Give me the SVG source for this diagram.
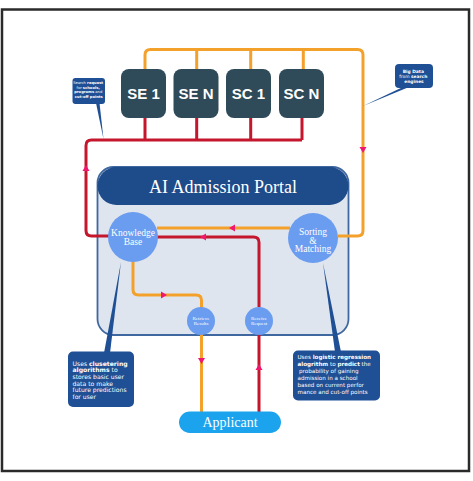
<svg xmlns="http://www.w3.org/2000/svg" width="473" height="481" viewBox="0 0 473 481">
<style>
.or{fill:none;stroke:#f4a12c;stroke-width:3}
.rd{fill:none;stroke:#c4162c;stroke-width:3}
.se{fill:#2f4a58}
.set{font-family:"Liberation Sans",Arial,sans-serif;font-weight:bold;font-size:15px;fill:#fff;text-anchor:middle}
.cir{fill:#6a9cf0}
.ct{font-family:"Liberation Serif","Times New Roman",serif;fill:#fff;text-anchor:middle}
.co{fill:#1f4f94}
.cot{font-family:"DejaVu Sans",Verdana,sans-serif;fill:#fff}
.cot tspan.b{font-weight:bold}
.ptr{fill:#1f4f94}
</style>
<defs>
<path id="arr" d="M-3.5,-3 L3.5,-3 L0,3 Z" fill="#f0186e"/>
</defs>
<rect x="0" y="0" width="473" height="481" fill="#fff"/>
<rect x="2" y="9.5" width="467" height="461.5" fill="#fff" stroke="#2a2a2a" stroke-width="2.5"/>

<g id="portal">
<rect x="97.5" y="167" width="251" height="168" rx="16" fill="#dfe5ee" stroke="#3f67a0" stroke-width="1.8"/>
<rect x="97.5" y="167" width="251" height="38" rx="19" fill="#1e4b89"/>
<text x="223" y="192.5" class="ct" font-size="18">AI Admission Portal</text>
</g>

<g id="connectors">
<path class="or" d="M145,69 V55 Q145,49.5 150.5,49.5 H357.5 Q363,49.5 363,55 V230.5 Q363,236 357.5,236 H338"/>
<path class="or" d="M196.7,49.5 V69 M250.7,49.5 V69 M303.3,49.5 V69"/>
<path class="rd" d="M145,118 V140 M196.7,118 V140 M250.7,118 V140 M302,118 V140"/>
<path class="rd" d="M302,140 H91.5 Q86,140 86,145.5 V230.5 Q86,236 91.5,236 H110"/>
<path class="rd" d="M259,307 V242.5 Q259,237 253.5,237 H157"/>
<path class="or" d="M290,228 H157"/>
<path class="or" d="M133,260 V289.5 Q133,295 138.5,295 H196 Q201.5,295 201.5,300.5 V308"/>
<path class="or" d="M201.5,334 V412"/>
<path class="rd" d="M259,412 V334"/>
<use href="#arr" transform="translate(363,150)"/>
<use href="#arr" transform="translate(86,168) rotate(180)"/>
<use href="#arr" transform="translate(232,228) rotate(90)"/>
<use href="#arr" transform="translate(203,237) rotate(90)"/>
<use href="#arr" transform="translate(164,295) rotate(-90)"/>
<use href="#arr" transform="translate(201.5,361)"/>
<use href="#arr" transform="translate(259,367) rotate(180)"/>
</g>

<g id="se1"><rect class="se" x="121" y="69" width="45" height="49" rx="8"/><text class="set" x="143.5" y="98.5">SE 1</text></g>
<g id="sen"><rect class="se" x="173.5" y="69" width="45" height="49" rx="8"/><text class="set" x="196" y="98.5">SE N</text></g>
<g id="sc1"><rect class="se" x="226" y="69" width="45" height="49" rx="8"/><text class="set" x="248.5" y="98.5">SC 1</text></g>
<g id="scn"><rect class="se" x="279" y="69" width="45" height="49" rx="8"/><text class="set" x="301.5" y="98.5">SC N</text></g>

<g id="knowledge-base">
<circle class="cir" cx="133" cy="237" r="25"/>
<text class="ct" font-size="9.5" x="133" y="235.5">Knowledge</text>
<text class="ct" font-size="9.5" x="133" y="244.5">Base</text>
</g>
<g id="sorting-matching">
<circle class="cir" cx="313" cy="238" r="25"/>
<text class="ct" font-size="9.5" x="313" y="235">Sorting</text>
<text class="ct" font-size="9.5" x="313" y="243.5">&amp;</text>
<text class="ct" font-size="9.5" x="313" y="252">Matching</text>
</g>
<g id="retrieve-results">
<circle class="cir" cx="201" cy="321" r="14"/>
<text class="ct" font-size="5" x="201" y="320">Retrieve</text>
<text class="ct" font-size="5" x="201" y="325">Results</text>
</g>
<g id="receive-request">
<circle class="cir" cx="259" cy="321" r="14"/>
<text class="ct" font-size="5" x="259" y="320">Receive</text>
<text class="ct" font-size="5" x="259" y="325">Request</text>
</g>
<g id="applicant">
<rect x="179" y="411.5" width="102" height="21.5" rx="10.75" fill="#1ba3ee"/>
<text class="ct" font-size="14" x="230" y="426.5">Applicant</text>
</g>

<g id="callout-search">
<polygon class="ptr" points="96,103 99.5,103 103.5,139"/>
<rect class="co" x="72.5" y="78" width="32.5" height="26" rx="3"/>
<text class="cot" font-size="3.7" text-anchor="middle">
<tspan x="88.8" y="84">Search <tspan class="b">request</tspan></tspan>
<tspan x="88.8" y="88.6">for <tspan class="b">schools,</tspan></tspan>
<tspan x="88.8" y="93.2"><tspan class="b">programs</tspan> and</tspan>
<tspan x="88.8" y="97.8"><tspan class="b">cut-off points</tspan></tspan>
</text>
</g>
<g id="callout-bigdata">
<polygon class="ptr" points="403,87 409,87 363,106"/>
<rect class="co" x="395" y="64" width="38" height="24" rx="4"/>
<text class="cot" font-size="4.4" text-anchor="middle">
<tspan x="414" y="72.5" class="b">Big Data</tspan>
<tspan x="414" y="77.5">from <tspan class="b">search</tspan></tspan>
<tspan x="414" y="82.5" class="b">engines</tspan>
</text>
</g>
<g id="callout-clustering">
<polygon class="ptr" points="121,262 104,353 110,353"/>
<rect class="co" x="68" y="351.5" width="66" height="55.5" rx="5"/>
<text class="cot" font-size="6.1">
<tspan x="72.5" y="365.5">Uses <tspan class="b">clusetering</tspan></tspan>
<tspan x="72.5" y="372.2"><tspan class="b">algorithms</tspan> to</tspan>
<tspan x="72.5" y="378.9">stores basic user</tspan>
<tspan x="72.5" y="385.6">data to make</tspan>
<tspan x="72.5" y="392.3">future predictions</tspan>
<tspan x="72.5" y="399">for user</tspan>
</text>
</g>
<g id="callout-regression">
<polygon class="ptr" points="323,263 335,352 341,352"/>
<rect class="co" x="293" y="350.5" width="87" height="50" rx="5"/>
<text class="cot" font-size="5.6">
<tspan x="297.5" y="359">Uses <tspan class="b">logistic regression</tspan></tspan>
<tspan x="297.5" y="366"><tspan class="b">alogrithm</tspan> to <tspan class="b">predict</tspan> the</tspan>
<tspan x="299" y="373"> probability of gaining</tspan>
<tspan x="297.5" y="380">admission in a school</tspan>
<tspan x="297.5" y="387">based on current perfor</tspan>
<tspan x="297.5" y="394">mance and cut-off points</tspan>
</text>
</g>
</svg>
